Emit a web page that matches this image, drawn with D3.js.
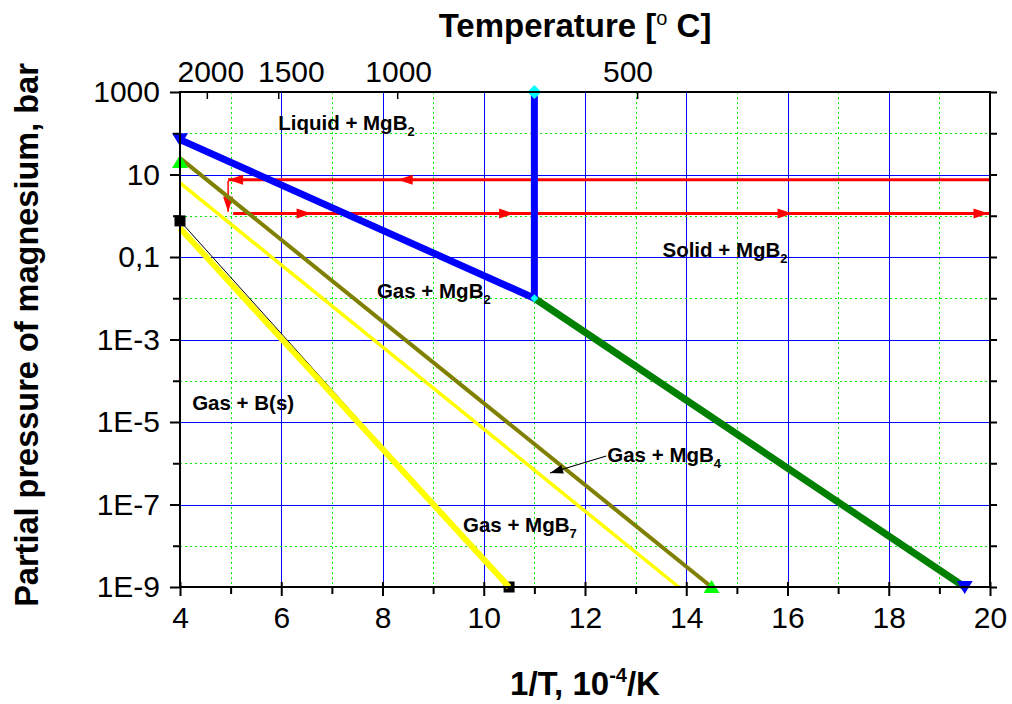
<!DOCTYPE html>
<html>
<head>
<meta charset="utf-8">
<script src="https://cdn.jsdelivr.net/npm/d3@7"></script>
<style>
  body { margin: 0; background: #fff; }
  svg { display: block; font-family: 'Liberation Sans', Arial, sans-serif; }
</style>
</head>
<body>
<svg width="1012" height="704"></svg>
<script>
// x axis: 1/T in 10^-4/K, y axis: log pressure in bar
var xTicks = [4, 6, 8, 10, 12, 14, 16, 18, 20];
var xMinor = [5, 7, 9, 11, 13, 15, 17, 19];
var yTicks = [1000, 10, 0.1, 1e-3, 1e-5, 1e-7, 1e-9];
var yTickLabels = ['1000', '10', '0,1', '1E-3', '1E-5', '1E-7', '1E-9'];
var yMinor = [100, 1, 0.01, 1e-4, 1e-6, 1e-8];

// top temperature axis (in 1/T units)
var tempLabels = ['2000', '1500', '1000', '500'];
var tempTickPos = [4.53, 5.94, 8.29, 13.03];
var tempLabelPos = [4.61, 6.2, 8.32, 12.85];

// phase boundary lines
var blueX = [4, 11];
var blueP = [70, 0.01];
var blueVertX = [11, 11];
var blueVertP = [1000, 0.01];
var greenX = [11, 19.5];
var greenP = [0.01, 1e-9];
var oliveX = [4, 14.5];
var oliveP = [25, 1e-9];
var yellowThinX = [4, 13.85];
var yellowThinP = [6.3, 1e-9];
var blackX = [4, 10.5];
var blackP = [0.75, 1e-9];
var yellowThickX = [4, 10.5];
var yellowThickP = [0.5, 1e-9];

// red process path
var redUpperX = [20, 4.95];
var redUpperP = [7.5, 7.5];
var redUpperHeads = [8.3, 4.95];
var redDownX = [4.95, 4.95];
var redDownP = [7.0, 1.25];
var redLowerX = [5.05, 20];
var redLowerP = [1.13, 1.13];
var redLowerHeads = [6.6, 10.6, 16.1, 19.97];

// end markers
var markerX = [4, 19.5, 4, 14.5, 11, 11];
var markerP = [72, 1e-9, 20, 1e-9, 1000, 0.01];
var markerShape = ['down', 'down', 'up', 'up', 'diamond', 'dot'];
var markerColor = ['#0000ff', '#0000ff', '#00ff00', '#00ff00', '#00ffff', '#00ffff'];
var squareX = [4, 10.5];
var squareP = [0.75, 1e-9];

// region labels: text, subscript, x, p
var regionText = ['Liquid + MgB', 'Solid + MgB', 'Gas + MgB', 'Gas + B(s)', 'Gas + MgB', 'Gas + MgB'];
var regionSub = ['2', '2', '2', '', '4', '7'];
var regionX = [5.94, 13.53, 7.89, 4.24, 12.44, 9.59];
var regionP = [120, 0.1, 0.01, 1.95e-5, 1.07e-6, 2.15e-8];

var svg = d3.select('svg');

var x = d3.scaleLinear().domain([4, 20]).range([180, 990]);
var y = d3.scaleLog().domain([1e-9, 1000]).range([587, 92]);

var line = d3
  .line()
  .x(function(d) {
    return x(d[0]);
  })
  .y(function(d) {
    return y(d[1]);
  });

function pts(xs, ps) {
  return xs.map(function(v, i) {
    return [v, ps[i]];
  });
}

// grid
var grid = svg.append('g');
grid
  .selectAll('.gx')
  .data(xTicks.slice(1, -1))
  .enter()
  .append('line')
  .attr('x1', d => Math.round(x(d)) + 0.5)
  .attr('x2', d => Math.round(x(d)) + 0.5)
  .attr('y1', 92)
  .attr('y2', 587)
  .style('stroke', '#0000ff')
  .style('stroke-width', 1);
grid
  .selectAll('.gxm')
  .data(xMinor)
  .enter()
  .append('line')
  .attr('x1', d => Math.round(x(d)) + 0.5)
  .attr('x2', d => Math.round(x(d)) + 0.5)
  .attr('y1', 92)
  .attr('y2', 587)
  .style('stroke', '#00ee00')
  .style('stroke-dasharray', '2,3')
  .style('stroke-width', 1);
grid
  .selectAll('.gy')
  .data(yTicks.slice(1, -1))
  .enter()
  .append('line')
  .attr('x1', 180)
  .attr('x2', 990)
  .attr('y1', d => Math.round(y(d)) + 0.5)
  .attr('y2', d => Math.round(y(d)) + 0.5)
  .style('stroke', '#0000ff')
  .style('stroke-width', 1);
grid
  .selectAll('.gym')
  .data(yMinor)
  .enter()
  .append('line')
  .attr('x1', 180)
  .attr('x2', 990)
  .attr('y1', d => Math.round(y(d)) + 0.5)
  .attr('y2', d => Math.round(y(d)) + 0.5)
  .style('stroke', '#00ee00')
  .style('stroke-dasharray', '2,3')
  .style('stroke-width', 1);

// red arrows
function arrowHead(g, px, py, dir) {
  // dir: 'left', 'right', 'down'
  var L = 15,
    W = 5,
    p;
  if (dir === 'left') p = [[px, py], [px + L, py - W], [px + L, py + W]];
  if (dir === 'right') p = [[px, py], [px - L, py - W], [px - L, py + W]];
  if (dir === 'down') p = [[px, py], [px - W, py - L], [px + W, py - L]];
  g.append('path')
    .attr('d', 'M' + p.join('L') + 'Z')
    .style('fill', '#ff0000');
}
var red = svg.append('g');
red
  .append('path')
  .attr('d', line(pts(redUpperX, redUpperP)))
  .style('fill', 'none')
  .style('stroke', '#ff0000')
  .style('stroke-width', 3);
red
  .append('path')
  .attr('d', line(pts(redDownX, redDownP)))
  .style('fill', 'none')
  .style('stroke', '#ff0000')
  .style('stroke-width', 1.5);
red
  .append('path')
  .attr('d', line(pts(redLowerX, redLowerP)))
  .style('fill', 'none')
  .style('stroke', '#ff0000')
  .style('stroke-width', 3);
redUpperHeads.forEach(function(h) {
  arrowHead(red, x(h), y(redUpperP[0]), 'left');
});
arrowHead(red, x(redDownX[1]), y(redDownP[1]), 'down');
redLowerHeads.forEach(function(h) {
  arrowHead(red, x(h), y(redLowerP[0]), 'right');
});

// series lines
var series = svg.append('g');
function drawLine(xs, ps, color, w) {
  series
    .append('path')
    .attr('d', line(pts(xs, ps)))
    .style('fill', 'none')
    .style('stroke', color)
    .style('stroke-width', w);
}
// black squares sit under the yellow line
series
  .selectAll('rect')
  .data(pts(squareX, squareP))
  .enter()
  .append('rect')
  .attr('x', d => x(d[0]) - 5.5)
  .attr('y', d => y(d[1]) - 5.5)
  .attr('width', 11)
  .attr('height', 11)
  .style('fill', '#000');
drawLine(blackX, blackP, '#000', 1);
drawLine(yellowThickX, yellowThickP, '#ffff00', 6);
drawLine(yellowThinX, yellowThinP, '#ffff00', 3.5);
drawLine(oliveX, oliveP, '#808000', 4);
drawLine(greenX, greenP, '#008000', 7);
drawLine(blueX, blueP, '#0000ff', 7);
drawLine(blueVertX, blueVertP, '#0000ff', 7);

// markers
var markers = svg.append('g');
markerX.forEach(function(mx, i) {
  var cx = x(mx),
    cy = y(markerP[i]),
    s = markerShape[i],
    d;
  if (s === 'down') d = 'M' + (cx - 8) + ',' + (cy - 6) + 'L' + (cx + 8) + ',' + (cy - 6) + 'L' + cx + ',' + (cy + 7) + 'Z';
  if (s === 'up') d = 'M' + (cx - 8) + ',' + (cy + 6) + 'L' + (cx + 8) + ',' + (cy + 6) + 'L' + cx + ',' + (cy - 7) + 'Z';
  if (s === 'diamond') d = 'M' + cx + ',' + (cy - 7) + 'L' + (cx + 7) + ',' + cy + 'L' + cx + ',' + (cy + 7) + 'L' + (cx - 7) + ',' + cy + 'Z';
  if (s === 'dot') d = 'M' + cx + ',' + (cy - 4) + 'L' + (cx + 4) + ',' + cy + 'L' + cx + ',' + (cy + 4) + 'L' + (cx - 4) + ',' + cy + 'Z';
  markers
    .append('path')
    .attr('d', d)
    .style('fill', markerColor[i]);
});

// axes
function styleAxis(g, fs) {
  g.select('.domain').remove();
  g.selectAll('line').style('stroke', '#000').style('stroke-width', 2);
  g.selectAll('text')
    .style('font-size', fs + 'px')
    .style('font-family', "'Liberation Sans', Arial, sans-serif")
    .style('fill', '#000');
}
var gb = svg
  .append('g')
  .attr('transform', 'translate(0,587)')
  .call(
    d3
      .axisBottom(x)
      .tickValues(xTicks)
      .tickSize(9)
      .tickPadding(11)
      .tickFormat(d3.format('d'))
  );
styleAxis(gb, 30);
gb.selectAll('.tick line').attr('y1', -5);
var gbm = svg
  .append('g')
  .attr('transform', 'translate(0,587)')
  .call(
    d3
      .axisBottom(x)
      .tickValues(xMinor)
      .tickSize(7)
      .tickFormat('')
  );
styleAxis(gbm, 30);

var gl = svg
  .append('g')
  .attr('transform', 'translate(180,0)')
  .call(
    d3
      .axisLeft(y)
      .tickValues(yTicks)
      .tickSize(10)
      .tickPadding(10)
      .tickFormat(function(d, i) {
        return yTickLabels[i];
      })
  );
styleAxis(gl, 30);
var glm = svg
  .append('g')
  .attr('transform', 'translate(180,0)')
  .call(
    d3
      .axisLeft(y)
      .tickValues(yMinor)
      .tickSize(7)
      .tickFormat('')
  );
styleAxis(glm, 30);

var gr = svg
  .append('g')
  .attr('transform', 'translate(990,0)')
  .call(
    d3
      .axisRight(y)
      .tickValues(yTicks.concat(yMinor))
      .tickSize(7)
      .tickFormat('')
  );
styleAxis(gr, 30);

var gt = svg
  .append('g')
  .attr('transform', 'translate(0,92)')
  .call(
    d3
      .axisTop(x)
      .tickValues(tempTickPos)
      .tickSize(-7)
      .tickFormat('')
  );
styleAxis(gt, 30);
gt.selectAll('line').style('stroke-width', 1.5);

svg
  .append('g')
  .selectAll('text')
  .data(tempLabels)
  .enter()
  .append('text')
  .attr('x', (d, i) => x(tempLabelPos[i]))
  .attr('y', 82)
  .attr('text-anchor', 'middle')
  .style('font-size', '30px')
  .text(d => d);

// frame
svg
  .append('rect')
  .attr('x', 180)
  .attr('y', 92)
  .attr('width', 810)
  .attr('height', 495)
  .style('fill', 'none')
  .style('stroke', '#000')
  .style('stroke-width', 2);

// region labels
var labels = svg.append('g');
regionText.forEach(function(t, i) {
  var tx = labels
    .append('text')
    .attr('x', x(regionX[i]))
    .attr('y', y(regionP[i]))
    .style('font-size', '20.5px')
    .style('font-weight', 'bold')
    .text(t);
  if (regionSub[i]) {
    tx.append('tspan')
      .attr('dy', 6)
      .style('font-size', '13px')
      .text(regionSub[i]);
  }
});

// pointer for Gas + MgB4
var px1 = x(12.42),
  py1 = y(1.5e-6),
  px2 = x(11.31),
  py2 = y(5.8e-7);
labels
  .append('line')
  .attr('x1', px1)
  .attr('y1', py1)
  .attr('x2', px2)
  .attr('y2', py2)
  .style('stroke', '#000')
  .style('stroke-width', 1.2);
var ang = Math.atan2(py2 - py1, px2 - px1);
var hl = 13,
  hw = 4.5;
var bx = px2 - hl * Math.cos(ang),
  by = py2 - hl * Math.sin(ang);
labels
  .append('path')
  .attr(
    'd',
    'M' + px2 + ',' + py2 +
      'L' + (bx - hw * Math.sin(ang)) + ',' + (by + hw * Math.cos(ang)) +
      'L' + (bx + hw * Math.sin(ang)) + ',' + (by - hw * Math.cos(ang)) + 'Z'
  )
  .style('fill', '#000');

// axis titles
var tTop = svg
  .append('text')
  .attr('x', 575)
  .attr('y', 37)
  .attr('text-anchor', 'middle')
  .style('font-size', '33px')
  .style('font-weight', 'bold');
tTop.append('tspan').text('Temperature [');
tTop
  .append('tspan')
  .attr('dy', -12)
  .style('font-size', '20px')
  .style('font-weight', 'normal')
  .text('o');
tTop
  .append('tspan')
  .attr('dy', 12)
  .text(' C]');

var tBot = svg
  .append('text')
  .attr('x', 585)
  .attr('y', 695)
  .attr('text-anchor', 'middle')
  .style('font-size', '33px')
  .style('font-weight', 'bold');
tBot.append('tspan').text('1/T, 10');
tBot
  .append('tspan')
  .attr('dy', -13)
  .style('font-size', '20px')
  .text('-4');
tBot
  .append('tspan')
  .attr('dy', 13)
  .text('/K');

svg
  .append('text')
  .attr('transform', 'translate(38,335) rotate(-90)')
  .attr('text-anchor', 'middle')
  .style('font-size', '32.5px')
  .style('font-weight', 'bold')
  .text('Partial pressure of magnesium, bar');
</script>
</body>
</html>
